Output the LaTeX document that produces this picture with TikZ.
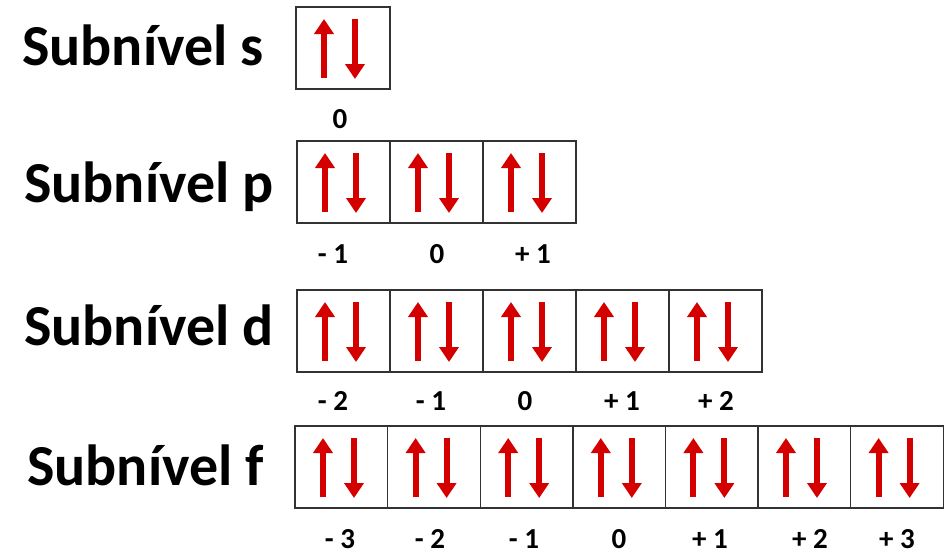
\documentclass[tikz,border=0pt]{standalone}
\usepackage{fontspec}
\setmainfont{Carlito}
\usetikzlibrary{arrows.meta}
\definecolor{spinred}{RGB}{212,0,0}
\definecolor{boxline}{RGB}{50,50,50}
\begin{document}
\begin{tikzpicture}[x=1pt,y=-1pt,
  orb/.style={draw=boxline, line width=1.4pt, minimum width=#1, minimum height=82pt, inner sep=0pt, outer sep=0pt},
  spin/.style={spinred, line width=6pt, -{Triangle[width=19pt,length=15pt]}},
  title/.style={font=\fontsize{58}{62}\selectfont\bfseries, anchor=base west, inner sep=0pt},
  ml/.style={font=\fontsize{29}{32}\selectfont\bfseries, anchor=base, inner sep=0pt}]
\useasboundingbox[fill=white] (0,0) rectangle (946,557);
% titles
\node[title] (ts) at (22,65) {Subnível s};
\node[title] (tp) at (24,202) {Subnível p};
\node[title] (td) at (24,345) {Subnível d};
\node[title] (tf) at (27,485) {Subnível f};
% orbital boxes with spin arrows
\foreach \row/\cy/\n/\w/\lx in {s/48/1/94/296, p/182/3/93/297, d/331/5/93/297, f/467/7/92.6/295}{
  \foreach \i in {1,...,\n}{
    \node[orb=\w pt] (\row\i) at ({\lx+(\i-0.5)*\w}, \cy) {};
    \draw[spin] ([shift={(28,-11)}]\row\i.south west) -- ([shift={(28,12)}]\row\i.north west);
    \draw[spin] ([shift={(59,12)}]\row\i.north west) -- ([shift={(59,-10)}]\row\i.south west);
  }
}
% magnetic quantum numbers
\node[ml] (ms0) at (340,128) {0};
\foreach \x/\t/\k in {333/- 1/1, 437/0/2, 533/+ 1/3}{
  \node[ml] (mp\k) at (\x,263) {\t};
}
\foreach \x/\t/\k in {333/- 2/1, 431/- 1/2, 525/0/3, 622/+ 1/4, 716/+ 2/5}{
  \node[ml] (md\k) at (\x,410) {\t};
}
\foreach \x/\t/\k in {340/- 3/1, 430/- 2/2, 524/- 1/3, 619/0/4, 710/+ 1/5, 810/+ 2/6, 897/+ 3/7}{
  \node[ml] (mf\k) at (\x,548) {\t};
}
\end{tikzpicture}
\end{document}
